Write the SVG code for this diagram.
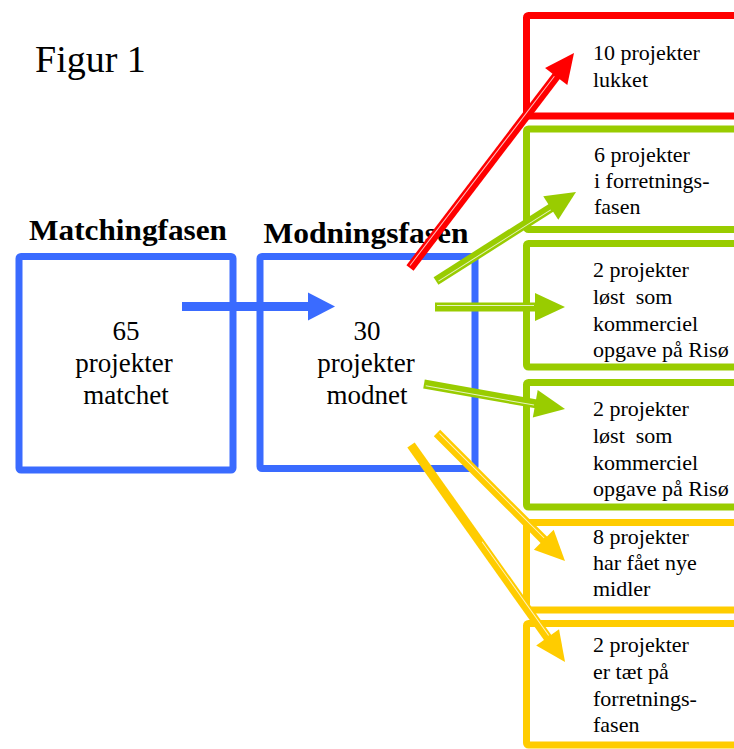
<svg xmlns="http://www.w3.org/2000/svg" width="734" height="749" viewBox="0 0 734 749">
  <style>
    text { font-family: "Liberation Serif", "Times New Roman", serif; fill: #000; }
    .title { font-size: 38px; }
    .phase { font-size: 29px; font-weight: bold; }
    .big { font-size: 27px; text-anchor: middle; }
    .small { font-size: 22px; }
    .box { fill: #fff; stroke-width: 7; stroke-linejoin: round; }
    .blue { stroke: #3A6BFF; }
    .red { stroke: #FF0000; }
    .green { stroke: #99CC00; }
    .yellow { stroke: #FFCC00; }
    .shaft { stroke-width: 9; fill: none; }
    .gap { stroke: #fff; stroke-width: 1; opacity: 0.75; }
  </style>

  <rect width="734" height="749" fill="#fff"/>

  <text class="title" x="35" y="72">Figur 1</text>

  <!-- phase boxes -->
  <g id="matching">
    <text class="phase" x="128" y="240" text-anchor="middle" textLength="198" lengthAdjust="spacingAndGlyphs">Matchingfasen</text>
    <rect class="box blue" x="19" y="256.5" width="214" height="213.5" rx="2"/>
    <text class="big" x="126" y="340">65</text>
    <text class="big" x="124" y="372">projekter</text>
    <text class="big" x="126" y="404">matchet</text>
  </g>

  <g id="modning">
    <text class="phase" x="366" y="243" text-anchor="middle" textLength="205" lengthAdjust="spacingAndGlyphs">Modningsfasen</text>
    <rect class="box blue" x="260" y="256.5" width="215" height="212" rx="2"/>
    <text class="big" x="367" y="340">30</text>
    <text class="big" x="366" y="372">projekter</text>
    <text class="big" x="367" y="404">modnet</text>
  </g>

  <!-- outcome boxes -->
  <g id="lukket">
    <rect class="box red" x="526.5" y="15.5" width="240" height="100.5" rx="2"/>
    <text class="small" x="593" y="60">10 projekter</text>
    <text class="small" x="593" y="87">lukket</text>
  </g>

  <g id="forretning">
    <rect class="box green" x="526.5" y="129" width="240" height="100.5" rx="2"/>
    <text class="small" x="594" y="162">6 projekter</text>
    <text class="small" x="594" y="188">i forretnings-</text>
    <text class="small" x="594" y="214">fasen</text>
  </g>

  <g id="risoe1">
    <rect class="box green" x="526.5" y="243.5" width="240" height="123.5" rx="2"/>
    <text class="small" x="593" y="277">2 projekter</text>
    <text class="small" x="593" y="304" xml:space="preserve">løst  som</text>
    <text class="small" x="593" y="331">kommerciel</text>
    <text class="small" x="593" y="357">opgave på Risø</text>
  </g>

  <g id="risoe2">
    <rect class="box green" x="526.5" y="382.5" width="240" height="124.5" rx="2"/>
    <text class="small" x="593" y="416">2 projekter</text>
    <text class="small" x="593" y="443" xml:space="preserve">løst  som</text>
    <text class="small" x="593" y="470">kommerciel</text>
    <text class="small" x="593" y="496">opgave på Risø</text>
  </g>

  <g id="midler">
    <rect class="box yellow" x="526.5" y="522.5" width="240" height="87.5" rx="2"/>
    <text class="small" x="593" y="544">8 projekter</text>
    <text class="small" x="593" y="570">har fået nye</text>
    <text class="small" x="593" y="596">midler</text>
  </g>

  <g id="taet">
    <rect class="box yellow" x="526.5" y="623.5" width="240" height="121.5" rx="2"/>
    <text class="small" x="593" y="652">2 projekter</text>
    <text class="small" x="593" y="679">er tæt på</text>
    <text class="small" x="593" y="706">forretnings-</text>
    <text class="small" x="593" y="732">fasen</text>
  </g>

  <!-- connectors: each drawn along +x from its tail, then rotated into place -->
  <g id="connectors">
    <g transform="translate(182,306.5)">
      <line class="shaft blue" x1="0" y1="0" x2="127" y2="0"/>
      <polygon points="126,-14 153,0 126,14" fill="#3A6BFF"/>
    </g>

    <g transform="translate(410,268) rotate(-52.66)">
      <line class="shaft red" x1="0" y1="0" x2="242" y2="0"/>
      <line class="gap" x1="2" y1="-1.5" x2="240" y2="-1.5"/>
      <polygon points="241,-14 270.4,0 241,14" fill="#FF0000"/>
    </g>

    <g transform="translate(436,281) rotate(-32.45)">
      <line class="shaft green" x1="0" y1="0" x2="137" y2="0"/>
      <line class="gap" x1="2" y1="1.5" x2="135" y2="1.5"/>
      <polygon points="136,-14 165.9,0 136,14" fill="#99CC00"/>
    </g>

    <g transform="translate(435,307)">
      <line class="shaft green" x1="0" y1="0" x2="101" y2="0"/>
      <line class="gap" x1="2" y1="-1.5" x2="99" y2="-1.5"/>
      <polygon points="100,-14 130,0 100,14" fill="#99CC00"/>
    </g>

    <g transform="translate(424,384) rotate(10.05)">
      <line class="shaft green" x1="0" y1="0" x2="114" y2="0"/>
      <line class="gap" x1="2" y1="1.5" x2="112" y2="1.5"/>
      <polygon points="113,-14 143.2,0 113,14" fill="#99CC00"/>
    </g>

    <g transform="translate(437,433) rotate(45)">
      <line class="shaft yellow" x1="0" y1="0" x2="152" y2="0"/>
      <line class="gap" x1="2" y1="-1.5" x2="150" y2="-1.5"/>
      <polygon points="151,-14 181,0 151,14" fill="#FFCC00"/>
    </g>

    <g transform="translate(411,445) rotate(54.63)">
      <line class="shaft yellow" x1="0" y1="0" x2="237" y2="0"/>
      <line class="gap" x1="120" y1="-2" x2="235" y2="-2"/>
      <polygon points="236,-14 266.1,0 236,14" fill="#FFCC00"/>
    </g>
  </g>
</svg>
